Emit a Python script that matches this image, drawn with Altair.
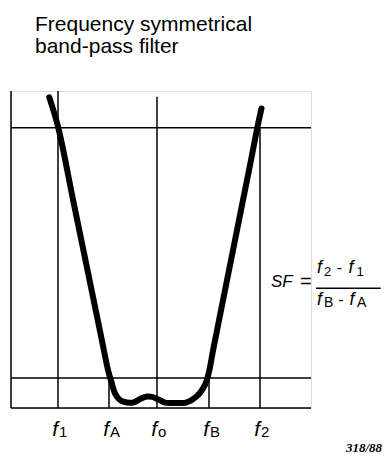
import altair as alt
import pandas as pd

# Characteristic frequencies (relative frequency units) and their subscripts
freq_subs = ["1", "A", "o", "B", "2"]
freq_pos = [9.4, 19.6, 29.2, 39.6, 49.8]

# Attenuation levels of the two reference lines (relative units)
upper_level = 88.4
lower_level = 9.5

# Frame verticals: left axis plus one line per characteristic frequency
vert_x = [0.0, 9.4, 19.6, 29.2, 39.6, 49.8]
vert_top = [100.0, 100.0, lower_level, 98.2, lower_level, upper_level]

# Horizontal reference lines
horiz_y = [0.0, lower_level, upper_level]

# Filter response curve
curve_f = [7.66, 9.46, 12.42, 14.48, 16.52, 18.16, 19.4, 20.14, 20.8, 21.6,
           22.46, 24.4, 25.8, 27.2, 28.2, 29.46, 30.8, 32.8, 35.0, 37.1,
           38.8, 39.6, 40.4, 42.0, 44.0, 46.0, 48.0, 49.26, 50.1]
curve_att = [98.0, 88.4, 65.6, 49.8, 34.1, 21.5, 12.0, 7.9, 4.6, 2.8,
             2.0, 1.7, 2.8, 3.6, 3.5, 2.7, 1.7, 1.6, 1.7, 3.6,
             7.3, 11.4, 18.1, 30.8, 46.6, 62.4, 78.2, 88.4, 94.5]

FONT = "Liberation Sans"
x_scale = alt.Scale(domain=[0, 60], nice=False, zero=False)
y_scale = alt.Scale(domain=[0, 100], nice=False, zero=False)

verts = pd.DataFrame({"x": vert_x, "y0": [0.0] * len(vert_x), "y1": vert_top})
horiz = pd.DataFrame({"y": horiz_y, "x0": [0.0] * 3, "x1": [60.0] * 3})
curve = pd.DataFrame({"f": curve_f, "a": curve_att, "i": range(len(curve_f))})
freqs = pd.DataFrame({"pos": freq_pos, "sub": freq_subs, "f": ["f"] * 5})

vlines = alt.Chart(verts).mark_rule(color="black", strokeWidth=1.5).encode(
    x=alt.X("x:Q", scale=x_scale, axis=None),
    y=alt.Y("y0:Q", scale=y_scale, axis=None),
    y2="y1:Q",
)
hlines = alt.Chart(horiz).mark_rule(color="black", strokeWidth=1.5).encode(
    y=alt.Y("y:Q", scale=y_scale, axis=None),
    x=alt.X("x0:Q", scale=x_scale, axis=None),
    x2="x1:Q",
)
response = alt.Chart(curve).mark_line(
    color="black", strokeWidth=6, strokeCap="round", strokeJoin="round",
    interpolate="catmull-rom",
).encode(
    x=alt.X("f:Q", scale=x_scale, axis=None),
    y=alt.Y("a:Q", scale=y_scale, axis=None),
    order="i:Q",
)

f_letters = alt.Chart(freqs).mark_text(
    font=FONT, fontSize=21, fontStyle="italic", align="right",
    baseline="alphabetic", dx=0, color="black",
).encode(
    x=alt.X("pos:Q", scale=x_scale, axis=None),
    y=alt.value(345),
    text="f:N",
)
f_subs = alt.Chart(freqs).mark_text(
    font=FONT, fontSize=15, align="left", baseline="alphabetic", dx=1,
    color="black",
).encode(
    x=alt.X("pos:Q", scale=x_scale, axis=None),
    y=alt.value(346),
    text="sub:N",
)


def label(text, x, y, size, italic=False, align="left", family=FONT,
          weight="normal"):
    kw = dict(font=family, fontSize=size, align=align, baseline="alphabetic",
              color="black", fontWeight=weight, text=text)
    if italic:
        kw["fontStyle"] = "italic"
    return alt.Chart(curve).mark_text(**kw).encode(
        x=alt.value(x), y=alt.value(y)
    ).transform_filter("datum.i == 0")


# Title block
title1 = label("Frequency symmetrical", 24, -60.3, 21)
title2 = label("band-pass filter", 24, -38.3, 21)

# SF = (f2 - f1) / (fB - fA)
formula = [
    label("SF", 260, 195.7, 17, italic=True),
    label("=", 294.8, 196.5, 20, align="center"),
    label("f", 306, 182.3, 18, italic=True),
    label("2", 313, 184.5, 13),
    label("-", 328.5, 182.3, 16, align="center"),
    label("f", 337.5, 182.3, 18, italic=True),
    label("1", 345.5, 184.5, 13),
    label("f", 306, 214, 18, italic=True),
    label("B", 313, 215.7, 14),
    label("-", 330, 214, 16, align="center"),
    label("f", 338.5, 214, 18, italic=True),
    label("A", 346, 215.7, 14),
]
frac_bar = alt.Chart(curve).mark_rule(color="black", strokeWidth=1.5).encode(
    x=alt.value(305), x2=alt.value(369.7), y=alt.value(197.3)
).transform_filter("datum.i == 0")

fig_code = label("318/88", 371, 360.7, 13, italic=True, align="right",
                 family="Liberation Serif", weight="bold")

chart = alt.layer(
    hlines, vlines, response, f_letters, f_subs, title1, title2,
    *formula, frac_bar, fig_code,
).properties(
    width=300, height=317,
    autosize=alt.AutoSizeParams(type="none"),
    padding={"left": 11, "top": 91, "right": 79, "bottom": 49},
).configure_view(stroke=None).configure(background="white")

chart.save("out.html", embed_options={"renderer": "svg", "actions": False})
